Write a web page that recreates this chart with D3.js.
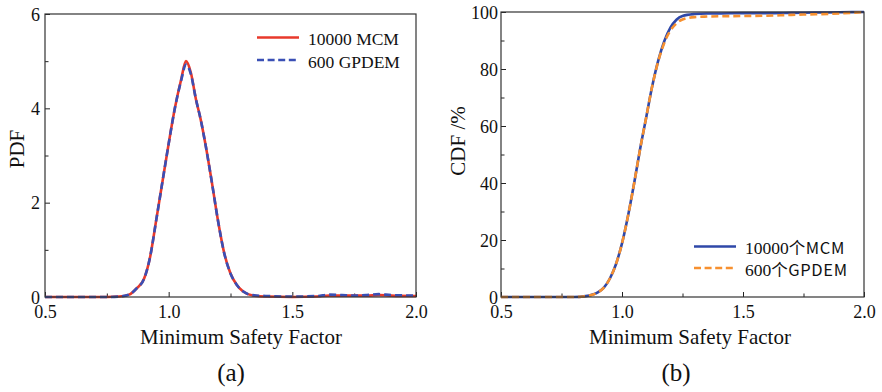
<!DOCTYPE html>
<html>
<head>
<meta charset="utf-8">
<script src="https://cdn.jsdelivr.net/npm/d3@7/dist/d3.min.js"></script>
<style>
  html, body { margin: 0; padding: 0; background: #fff; }
  svg { display: block; }
  text { font-family: "Liberation Serif", "Times New Roman", Tinos, "DejaVu Serif", "Noto Serif", serif; fill: #111; }
  text .cjk { font-family: "Noto Sans CJK SC", "Noto Sans", sans-serif; }
</style>
</head>
<body>
<svg id="chart" width="882" height="392"></svg>
<script>
// Minimum safety factor: PDF and CDF of the two estimators
const pdfX = [0.5, 0.6, 0.7, 0.75, 0.8, 0.84, 0.87, 0.9, 0.925, 0.95, 0.975, 1.0, 1.025, 1.05, 1.07, 1.09, 1.11, 1.13, 1.15, 1.175, 1.2, 1.225, 1.25, 1.275, 1.3, 1.34, 1.4, 1.5, 1.6, 1.65, 1.7, 1.75, 1.8, 1.85, 1.9, 2.0];
const pdfMCM = [0, 0, 0, 0, 0.01, 0.05, 0.18, 0.38, 0.85, 1.64, 2.45, 3.25, 4.0, 4.6, 5.0, 4.75, 4.2, 3.75, 3.2, 2.42, 1.6, 0.92, 0.5, 0.26, 0.12, 0.03, 0.01, 0.0, 0.01, 0.03, 0.03, 0.03, 0.03, 0.04, 0.03, 0.02];
const pdfGPDEM = [0, 0, 0, 0, 0.01, 0.05, 0.18, 0.38, 0.85, 1.64, 2.45, 3.25, 4.0, 4.58, 4.93, 4.72, 4.2, 3.75, 3.2, 2.42, 1.6, 0.92, 0.5, 0.26, 0.12, 0.04, 0.02, 0.01, 0.02, 0.05, 0.04, 0.03, 0.04, 0.06, 0.04, 0.03];

const cdfX = [0.5, 0.6, 0.7, 0.8, 0.85, 0.9, 0.925, 0.95, 0.975, 1.0, 1.025, 1.05, 1.075, 1.1, 1.125, 1.15, 1.175, 1.2, 1.225, 1.25, 1.3, 1.35, 1.4, 1.5, 1.6, 1.7, 1.8, 1.9, 2.0];
const cdfMCM = [0, 0, 0, 0, 0.3, 1.6, 3.3, 6.5, 11.5, 18.8, 28.5, 39.8, 52, 63, 74, 83, 89.8, 94.5, 97.3, 98.6, 99.3, 99.5, 99.5, 99.6, 99.6, 99.7, 99.8, 99.9, 100];
const cdfGPDEM = [0, 0, 0, 0, 0.3, 1.6, 3.3, 6.5, 11.5, 18.8, 28.5, 39.8, 52, 63, 74, 82.8, 89.2, 93.5, 96.0, 97.4, 98.2, 98.4, 98.5, 98.6, 98.7, 99.0, 99.2, 99.5, 100];

const xMajor = [0.5, 1.0, 1.5, 2.0];
const xMinor = [0.75, 1.25, 1.75];
const pdfTicks = [0, 2, 4, 6];
const pdfMinor = [1, 3, 5];
const cdfTicks = [0, 20, 40, 60, 80, 100];
const cdfMinor = [10, 30, 50, 70, 90];

const xTitle = "Minimum Safety Factor";
const pdfTitle = "PDF";
const cdfTitle = "CDF /%";
const legendA = [["10000 MCM", ""], ["600 GPDEM", ""]];
const legendB = [["10000", "个MCM"], ["600", "个GPDEM"]];

const svg = d3.select("#chart");

function panel(opts) {
  const g = svg.append("g");
  const x = d3.scaleLinear().domain([0.5, 2.0]).range([opts.left, opts.right]);
  const y = d3.scaleLinear().domain(opts.yDomain).range([opts.bottom, opts.top]);

  // inward ticks
  const axB = g.append("g").attr("transform", `translate(0,${opts.bottom})`)
    .call(d3.axisBottom(x).tickValues(xMajor).tickSize(-5).tickPadding(8).tickFormat(d3.format(".1f")));
  const axBm = g.append("g").attr("transform", `translate(0,${opts.bottom})`)
    .call(d3.axisBottom(x).tickValues(xMinor).tickSize(-3.5).tickFormat(""));
  const axL = g.append("g").attr("transform", `translate(${opts.left},0)`)
    .call(d3.axisLeft(y).tickValues(opts.yTicks).tickSize(-5).tickPadding(opts.yPad).tickFormat(d3.format("d")));
  const axLm = g.append("g").attr("transform", `translate(${opts.left},0)`)
    .call(d3.axisLeft(y).tickValues(opts.yMinor).tickSize(-3.5).tickFormat(""));
  [axB, axBm, axL, axLm].forEach(a => {
    a.attr("font-family", null);
    a.select(".domain").remove();
    a.selectAll(".tick line").attr("stroke", "#222").attr("stroke-width", 1);
    a.selectAll(".tick text").attr("font-size", 18).attr("fill", "#111");
  });
  axB.selectAll(".tick text").attr("dy", "0.71em");
  axL.selectAll(".tick text").attr("dy", "0.35em");

  const line = d3.line().x(d => x(d[0])).y(d => y(d[1])).curve(d3.curveMonotoneX);
  opts.series.forEach(s => {
    g.append("path")
      .datum(opts.xs.map((v, i) => [v, s.values[i]]))
      .attr("fill", "none")
      .attr("stroke", s.color)
      .attr("stroke-width", 2.6)
      .attr("stroke-dasharray", s.dash || null)
      .attr("d", line);
  });

  g.append("rect")
    .attr("x", opts.left).attr("y", opts.top)
    .attr("width", opts.right - opts.left).attr("height", opts.bottom - opts.top)
    .attr("fill", "none").attr("stroke", "#333").attr("stroke-width", 1.2);

  // titles
  g.append("text").attr("x", opts.xTitleX).attr("y", 344)
    .attr("text-anchor", "middle").attr("font-size", 21).text(xTitle);
  g.append("text")
    .attr("transform", `translate(${opts.yTitleX},${opts.yTitleY}) rotate(-90)`)
    .attr("text-anchor", "middle").attr("font-size", 21).text(opts.yTitle);
  g.append("text").attr("x", opts.tagX).attr("y", 381)
    .attr("text-anchor", "middle").attr("font-size", 25).text(opts.tag);

  // legend
  opts.legend.forEach((lab, i) => {
    const s = opts.series[i];
    const ly = opts.legY + i * opts.legStep;
    g.append("line")
      .attr("x1", opts.legX).attr("x2", opts.legX + 42)
      .attr("y1", ly).attr("y2", ly)
      .attr("stroke", s.color).attr("stroke-width", 2.6)
      .attr("stroke-dasharray", s.dash ? "7,3.6" : null);
    const t = g.append("text").attr("x", opts.legX + 51).attr("y", ly + 7.5).attr("font-size", 17.5);
    t.append("tspan").text(lab[0]);
    if (lab[1]) {
      t.append("tspan").attr("class", "cjk").attr("font-size", 16.5)
        .attr("letter-spacing", 0.6).text(lab[1]);
    }
  });
}

panel({
  left: 45, right: 416, top: 14, bottom: 297,
  yDomain: [0, 6], yTicks: pdfTicks, yMinor: pdfMinor, yPad: 5,
  xs: pdfX,
  series: [
    { values: pdfMCM, color: "#e8392b" },
    { values: pdfGPDEM, color: "#3a4fb5", dash: "7,4" }
  ],
  xTitleX: 241, yTitle: pdfTitle, yTitleX: 24, yTitleY: 149, tag: "(a)", tagX: 231,
  legend: legendA, legX: 257, legY: 37.5, legStep: 22.5
});

panel({
  left: 501, right: 864, top: 12, bottom: 297,
  yDomain: [0, 100], yTicks: cdfTicks, yMinor: cdfMinor, yPad: 3,
  xs: cdfX,
  series: [
    { values: cdfMCM, color: "#2f48a8" },
    { values: cdfGPDEM, color: "#f7902f", dash: "7,4" }
  ],
  xTitleX: 690, yTitle: cdfTitle, yTitleX: 465, yTitleY: 141, tag: "(b)", tagX: 676,
  legend: legendB, legX: 694, legY: 246.5, legStep: 21.5
});
</script>
</body>
</html>
